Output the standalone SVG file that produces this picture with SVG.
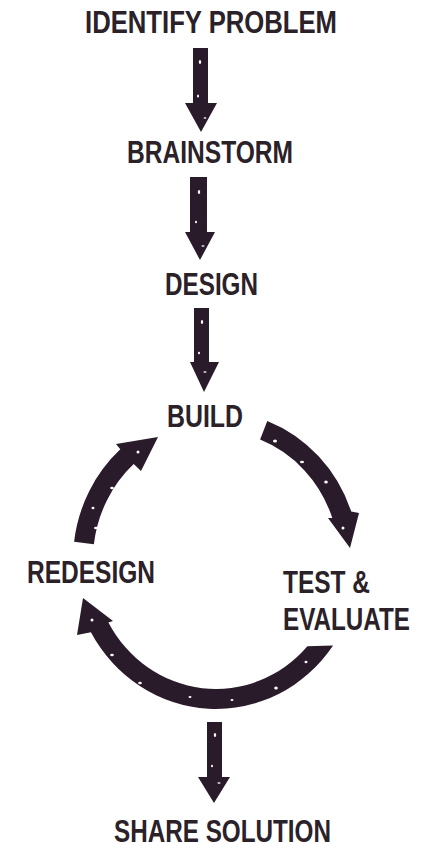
<svg xmlns="http://www.w3.org/2000/svg" width="423" height="843" viewBox="0 0 423 843">
<style>
.lbl{font-family:"Liberation Sans","Arial",sans-serif;font-weight:bold;font-size:32px;fill:#2b2128}
.arr{fill:#2a1b2b}
.spk{fill:#ffffff}
</style>
<rect width="423" height="843" fill="#ffffff"/>
<g id="connectors">
<path class="arr" d="M193,48 L208,48 L208,103 L217,103 L201,132 L185,103 L193,103 Z"/>
<path class="arr" d="M190,177 L207,177 L207,232 L215,232 L200,260 L185,232 L190,232 Z"/>
<path class="arr" d="M194,308 L209,308 L209,362 L219,362 L204,392 L190,362 L194,362 Z"/>
<path class="arr" d="M207,722 L222,722 L222,777 L230,777 L214,803 L198,777 L207,777 Z"/>
<path class="arr" d="M267.3,420.9 A143,149 0 0 1 351.2,511.5 L359,513 L350,548 L328,518 L332.3,518 A123,129 0 0 0 260.1,439.6 Z"/>
<path class="arr" d="M333.1,645.5 A143,149 0 0 1 90.9,632.2 L77,635 L83,598 L113,621 L108.4,622.5 A123,129 0 0 0 307.4,646.3 Z"/>
<path class="arr" d="M93.9,544.3 A123,129 0 0 1 133.7,464.1 L141,471 L158,437 L116,444 L120.3,449.3 A143,149 0 0 0 74.1,541.8 Z"/>
<g class="spk">
<ellipse cx="200" cy="62" rx="1.2" ry="2"/><ellipse cx="198" cy="96" rx="1" ry="1.5"/><ellipse cx="205" cy="118" rx="1.5" ry="0.8"/>
<ellipse cx="199" cy="192" rx="1.2" ry="2"/><ellipse cx="196" cy="222" rx="1" ry="1.3"/><ellipse cx="203" cy="246" rx="1.6" ry="0.8"/>
<ellipse cx="202" cy="322" rx="1.2" ry="2"/><ellipse cx="199" cy="353" rx="1" ry="1.3"/><ellipse cx="205" cy="372" rx="1.6" ry="0.8"/>
<ellipse cx="215" cy="735" rx="1.2" ry="2"/><ellipse cx="212" cy="766" rx="1" ry="1.3"/><ellipse cx="219" cy="783" rx="1.6" ry="0.8"/>
<ellipse cx="275" cy="441" rx="2" ry="1.5"/><ellipse cx="302" cy="462" rx="2" ry="1.2"/><ellipse cx="326" cy="482" rx="1.8" ry="1.5"/><ellipse cx="343" cy="528" rx="1.5" ry="1.5"/>
<ellipse cx="96" cy="528" rx="2" ry="1.2"/><ellipse cx="93" cy="508" rx="1.5" ry="1.2"/><ellipse cx="112" cy="488" rx="1.8" ry="1.2"/><ellipse cx="138" cy="452" rx="1.5" ry="1.5"/>
<ellipse cx="92" cy="620" rx="1.5" ry="1.5"/><ellipse cx="112" cy="655" rx="1.8" ry="1.2"/><ellipse cx="140" cy="683" rx="1.8" ry="1.2"/><ellipse cx="190" cy="697" rx="1.5" ry="1"/><ellipse cx="232" cy="700" rx="1.5" ry="1"/><ellipse cx="276" cy="688" rx="1.8" ry="1.5"/><ellipse cx="306" cy="662" rx="1.5" ry="1.2"/>
</g>
</g>
<g id="node-identify"><text class="lbl" x="85" y="33" textLength="252" lengthAdjust="spacingAndGlyphs">IDENTIFY PROBLEM</text></g>
<g id="node-brainstorm"><text class="lbl" x="127" y="163" textLength="166" lengthAdjust="spacingAndGlyphs">BRAINSTORM</text></g>
<g id="node-design"><text class="lbl" x="165" y="295" textLength="93" lengthAdjust="spacingAndGlyphs">DESIGN</text></g>
<g id="node-build"><text class="lbl" x="167" y="427" textLength="76" lengthAdjust="spacingAndGlyphs">BUILD</text></g>
<g id="node-redesign"><text class="lbl" x="27" y="583" textLength="128" lengthAdjust="spacingAndGlyphs">REDESIGN</text></g>
<g id="node-test"><text class="lbl" x="283" y="593" textLength="87" lengthAdjust="spacingAndGlyphs">TEST &amp;</text><text class="lbl" x="283" y="630" textLength="127" lengthAdjust="spacingAndGlyphs">EVALUATE</text></g>
<g id="node-share"><text class="lbl" x="114" y="842" textLength="217" lengthAdjust="spacingAndGlyphs">SHARE SOLUTION</text></g>
</svg>
